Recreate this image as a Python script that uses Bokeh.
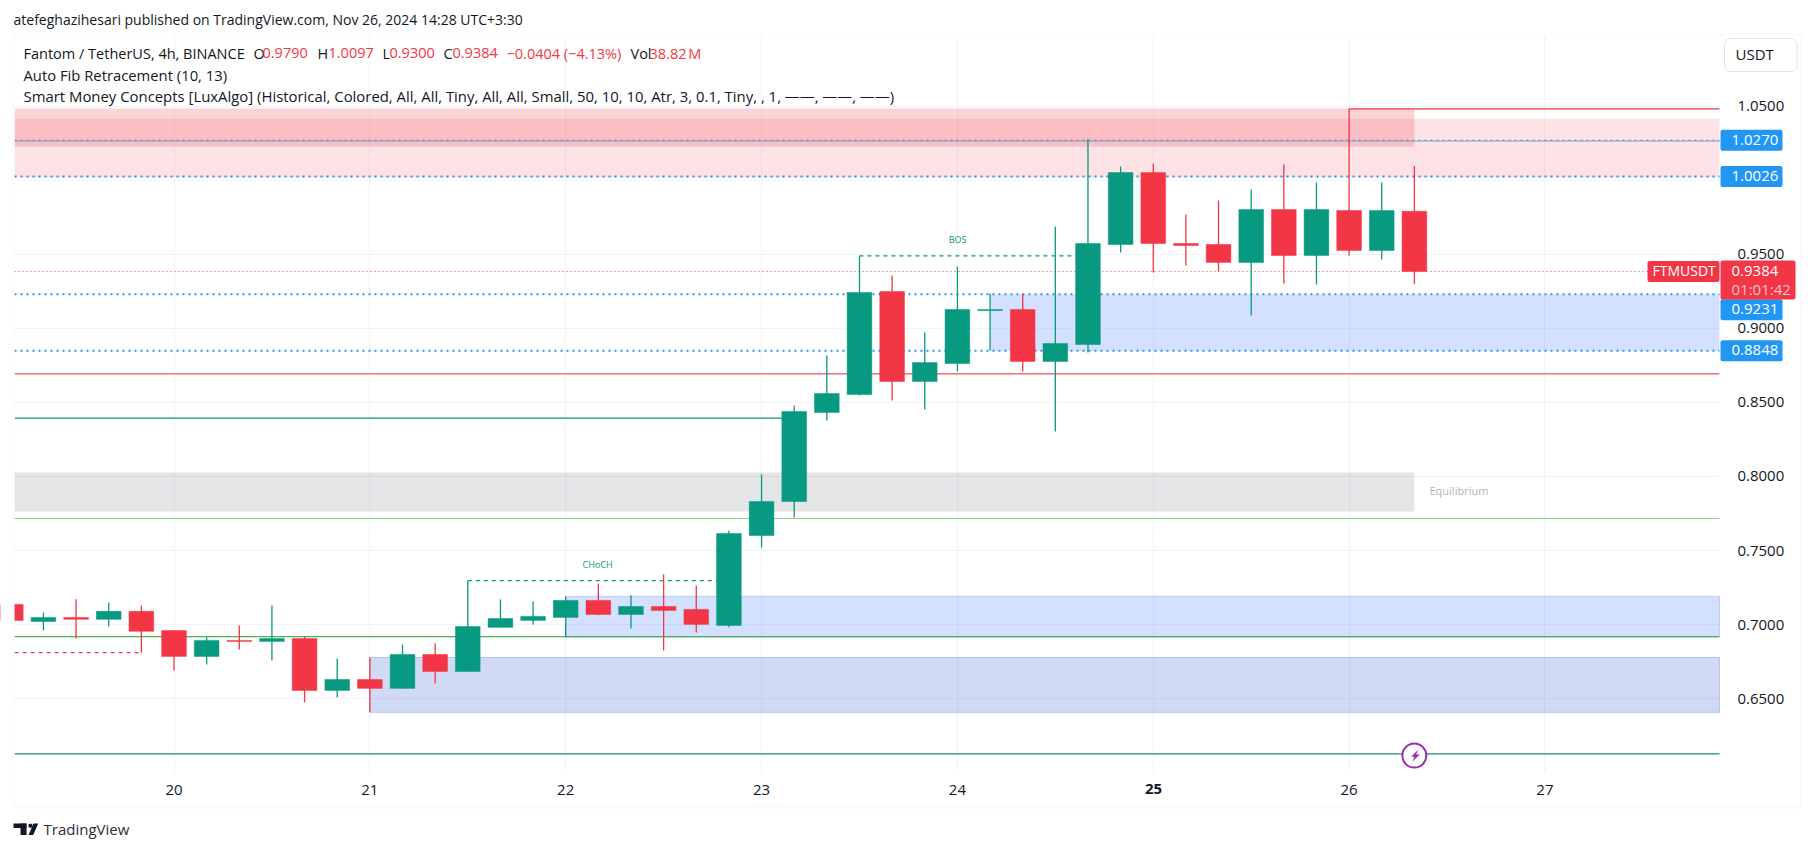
from bokeh.plotting import figure
from bokeh.models import (ColumnDataSource, Range1d, FixedTicker, LinearAxis, Grid, Label,
                          BoxAnnotation, PolyAnnotation, NumeralTickFormatter)
from bokeh.embed import file_html
from bokeh.resources import INLINE

# ---- data ----
days = [19.1667 + i / 6 for i in range(44)]
opens = [.7136,.7021,.7048,.7035,.7089,.6960,.6785,.6893,.6886,.6906,.6555,.6629,.6569,.6798,.6683,.6981,.7028,.7048,.7163,.7068,.7122,.7102,.6994,.7601,.7831,.8432,.8553,.9249,.8641,.8763,.9120,.9127,.8776,.8891,.9566,1.0052,.9573,.9566,.9445,.9802,.9492,.9796,.9526,.9790]
highs = [.7136,.7082,.7170,.7149,.7129,.6960,.6915,.6994,.7129,.6918,.6771,.6778,.6866,.6873,.7296,.7170,.7156,.7190,.7278,.7197,.7338,.7264,.7635,.8013,.8479,.8817,.9490,.9357,.8972,.9418,.9235,.9235,.9688,1.0277,1.0093,1.0113,.9769,.9863,.9938,1.0106,.9985,1.0482,.9985,1.0097]
lows = [.7028,.6960,.6906,.6987,.6810,.6690,.6731,.6832,.6758,.6474,.6508,.6407,.6569,.6602,.6683,.6981,.7001,.6915,.7062,.6974,.6825,.6947,.6981,.7520,.7723,.8378,.8547,.8513,.8452,.8709,.8850,.8709,.8304,.8837,.9512,.9377,.9424,.9384,.9087,.9303,.9296,.9492,.9465,.9300]
closes = [.7028,.7048,.7035,.7089,.6954,.6785,.6893,.6886,.6906,.6555,.6629,.6569,.6798,.6683,.6987,.7041,.7055,.7163,.7068,.7122,.7095,.7001,.7615,.7831,.8439,.8560,.9242,.8641,.8769,.9127,.9127,.8776,.8898,.9573,1.0052,.9573,.9559,.9445,.9802,.9492,.9802,.9526,.9796,.9384]

x_ticks = [20, 21, 22, 23, 24, 25, 26, 27]
y_grid = [.65, .70, .75, .80, .85, .90, .95, 1.00, 1.05]
y_labels = [.65, .70, .75, .80, .85, .90, .95, 1.05]
fib_levels = [1.0270, 1.0026, .9231, .8848]
last_close = .9384

UP, DOWN = "#089981", "#f23645"
BLUE = "#2196f3"
X0, X1 = 19.1856, 27.891        # pane edges, days
Y0, Y1 = .6001, 1.09774         # pane edges, price
W, H = 1806, 843
FONT = "Open Sans"
INK = "#131722"

# the frame fills the whole canvas; the pane is the part between X0..X1 and Y0..Y1
XA, XB = 20 - 173.5 / 195.85, 20 + (W - 173.5) / 195.85
YB, YT = 1.05 - (H - 105.7) / 1481, 1.05 + 105.7 / 1481

p = figure(width=W, height=H, output_backend="svg", toolbar_location=None,
           x_range=Range1d(XA, XB), y_range=Range1d(YB, YT),
           x_axis_location=None, y_axis_location=None,
           min_border=0, outline_line_color=None, background_fill_color="white", border_fill_color="white")
p.xgrid.visible = False
p.ygrid.visible = False

ax_b = LinearAxis(ticker=FixedTicker(ticks=x_ticks), major_label_overrides={25: ""}, fixed_location=Y0)
ax_r = LinearAxis(ticker=FixedTicker(ticks=y_labels), formatter=NumeralTickFormatter(format="0.0000"), fixed_location=X1)
for a in (ax_b, ax_r):
    a.axis_line_color = None
    a.major_tick_line_color = None
    a.minor_tick_line_color = None
    a.major_label_text_font = FONT
    a.major_label_text_font_size = "15px"
    a.major_label_text_color = INK
ax_r.major_label_standoff = 12
ax_b.major_label_standoff = 6
p.add_layout(ax_b, "below")
p.add_layout(ax_r, "right")

p.add_layout(Grid(dimension=0, ticker=FixedTicker(ticks=x_ticks), grid_line_color="#f0f3fa"))
p.add_layout(Grid(dimension=1, ticker=FixedTicker(ticks=y_grid), grid_line_color="#f0f3fa"))

# white masks keep the grid inside the pane
for l, r, t, b in [(XA, X0, YT, YB), (X1, XB, YT, YB), (XA, XB, YT, Y1), (XA, XB, Y0, YB)]:
    p.quad(left=[l], right=[r], top=[t], bottom=[b], fill_color="white", line_color=None)

# zones
def zone(left, right, top, bottom, color, alpha, line=None):
    p.quad(left=[left], right=[right], top=[top], bottom=[bottom], fill_color=color, fill_alpha=alpha,
           line_color=line, line_alpha=0.25 if line else 0)

zone(X0, 26.333, 1.0484, 1.0228, DOWN, .21)
zone(X0, X1, 1.0415, 1.0018, DOWN, .14)
zone(X0, 26.333, .8027, .7763, "#787b86", .2)
zone(24.167, X1, .9231, .8848, "#2962ff", .2)
zone(22.0, X1, .7190, .6915, "#2962ff", .2, "#2962ff")
zone(21.0, X1, .6778, .6407, "#1848cc", .2, "#1848cc")

# structure lines
def hline(x0, x1, y, color, width=1.2, dash="solid"):
    p.line([x0, x1], [y, y], line_color=color, line_width=width, line_dash=dash)

hline(X0, X1, .6918, "#4caf50")
hline(X0, X1, .7716, "#8fd18f")
hline(X0, X1, .8693, "#ef5350")
hline(X0, X1, .6127, "#1a8a7a")
hline(X0, 23.167, .8394, UP)
hline(26.0, X1, 1.0482, DOWN)
hline(X0, 19.833, .6810, DOWN, 1.2, "4 4")
hline(21.5, 22.833, .7296, UP, 1.2, "4 4")
hline(23.5, 24.667, .9490, UP, 1.2, "4 4")
hline(X0, X1, 1.0265, "#7f9cc8")
hline(X0, X1, fib_levels[0], BLUE, 1, "2 4")
for lv in fib_levels[1:]:
    hline(X0, X1, lv, BLUE, 2, "2 4")
hline(X0, X1, last_close, DOWN, 1, "1 3")

# candles
colors = [UP if c >= o else DOWN for o, c in zip(opens, closes)]
src = ColumnDataSource(dict(x=days, o=opens, h=highs, l=lows, c=closes, color=colors))
p.segment("x", "h", "x", "l", source=src, line_color="color", line_width=1.3)
p.vbar("x", 0.126, "o", "c", source=src, fill_color="color", line_color="color", line_width=0.5)

# the first candle is cut by the pane's left edge
p.quad(left=[XA], right=[X0], top=[YT], bottom=[YB], fill_color="white", line_color=None)

# lightning marker
p.scatter([26.333], [.6115], size=24, marker="circle", fill_color="white", line_color="#9c27b0", line_width=2)

def canvas_label(x, y, text, color=INK, size="14px", style="normal", align="left", font=FONT):
    p.add_layout(Label(x=x, y=y - 1.5, x_units="canvas", y_units="canvas", text=text, text_color=color,
                       text_font=font, text_font_size=size, text_font_style=style, text_align=align,
                       text_baseline="middle"))

def box(left, right, top, bottom, color, radius=0, line=None):
    p.add_layout(BoxAnnotation(left=left, right=right, top=top, bottom=bottom,
                               left_units="canvas", right_units="canvas", top_units="canvas", bottom_units="canvas",
                               fill_color=color, fill_alpha=1,
                               line_color=line, line_alpha=1 if line else 0, border_radius=radius))

def poly(xs, ys, color):
    p.add_layout(PolyAnnotation(xs=xs, ys=ys, xs_units="canvas", ys_units="canvas",
                                fill_color=color, fill_alpha=1, line_color=None))

P = lambda v: 105.7 + (1.05 - v) * 1481     # only for placing tags beside the price scale

# outer frame
p.add_layout(BoxAnnotation(left=13, right=1800.5, top=34, bottom=807, left_units="canvas", right_units="canvas",
                           top_units="canvas", bottom_units="canvas", fill_alpha=0, line_color="#f0f3fa", line_width=2))

# price tags (0.9231 is pushed below the last-price tag, as on the price scale)
for v, shift in zip(fib_levels, [0, 0, 15.5, 0]):
    y = P(v) + shift
    box(1720, 1782, y - 10.5, y + 10.5, BLUE, 2)
    canvas_label(1731, y + 1, f"{v:.4f}", "white", "15px")
y = P(last_close)
box(1647, 1719, y - 10.5, y + 10.5, DOWN, 2)
canvas_label(1652, y + 1, "FTMUSDT", "white", "14px")
box(1720, 1795, y - 11, y + 28, DOWN, 2)
canvas_label(1731, y + 1, f"{last_close:.4f}", "white", "15px")
canvas_label(1731, y + 19, "01:01:42", "#fbc3c8", "15px")
box(1724, 1796.5, 38, 71, "white", 6, "#e0e3eb")
canvas_label(1735, 55, "USDT", INK, "15px")

# header and legends
canvas_label(13, 20, "atefeghazihesari published on TradingView.com, Nov 26, 2024 14:28 UTC+3:30")
canvas_label(23, 54, "Fantom / TetherUS, 4h, BINANCE", size="14.5px")
for x, t, c in [(253, "O", None), (262, "0.9790", DOWN), (317, "H", None), (328, "1.0097", DOWN),
                (382, "L", None), (389, "0.9300", DOWN), (443, "C", None), (452, "0.9384", DOWN),
                (506, "\u22120.0404 (\u22124.13%)", DOWN), (630, "Vol", None), (649, "38.82\u202fM", DOWN)]:
    canvas_label(x, 54, t, c or INK, "14.5px")
canvas_label(23, 75.5, "Auto Fib Retracement (10, 13)", size="14.8px")
canvas_label(23, 97, "Smart Money Concepts [LuxAlgo] (Historical, Colored, All, All, Tiny, All, All, Small, 50, 10, 10, Atr, 3, 0.1, Tiny, , 1, \u2014\u2014, \u2014\u2014, \u2014\u2014)", size="14.9px")

canvas_label(597, 565, "CHoCH", UP, "9px", align="center")
canvas_label(957, 240, "BOS", UP, "9px", align="center")
canvas_label(1429, 491.5, "Equilibrium", "#b2b5be", "11px")
canvas_label(1153, 789.5, "25", INK, "15px", "bold", align="center")

# lightning bolt
poly([1417.7, 1410.7, 1414, 1412, 1419.3, 1415.7], [749.3, 756.3, 756.3, 761, 754, 754], "#9c27b0")

# TradingView mark
canvas_label(43, 830, "TradingView", "#2a2e39", "15px")
box(13, 26, 823, 827.5, INK)
box(20, 26, 823, 834.5, INK)
poly([33, 37.7, 32.7, 28], [823, 823, 834.5, 834.5], INK)
poly([28, 30, 32, 32, 30, 28], [824, 823, 824, 826.5, 827.5, 826.5], INK)

open("out.html", "w").write(file_html(p, INLINE))
